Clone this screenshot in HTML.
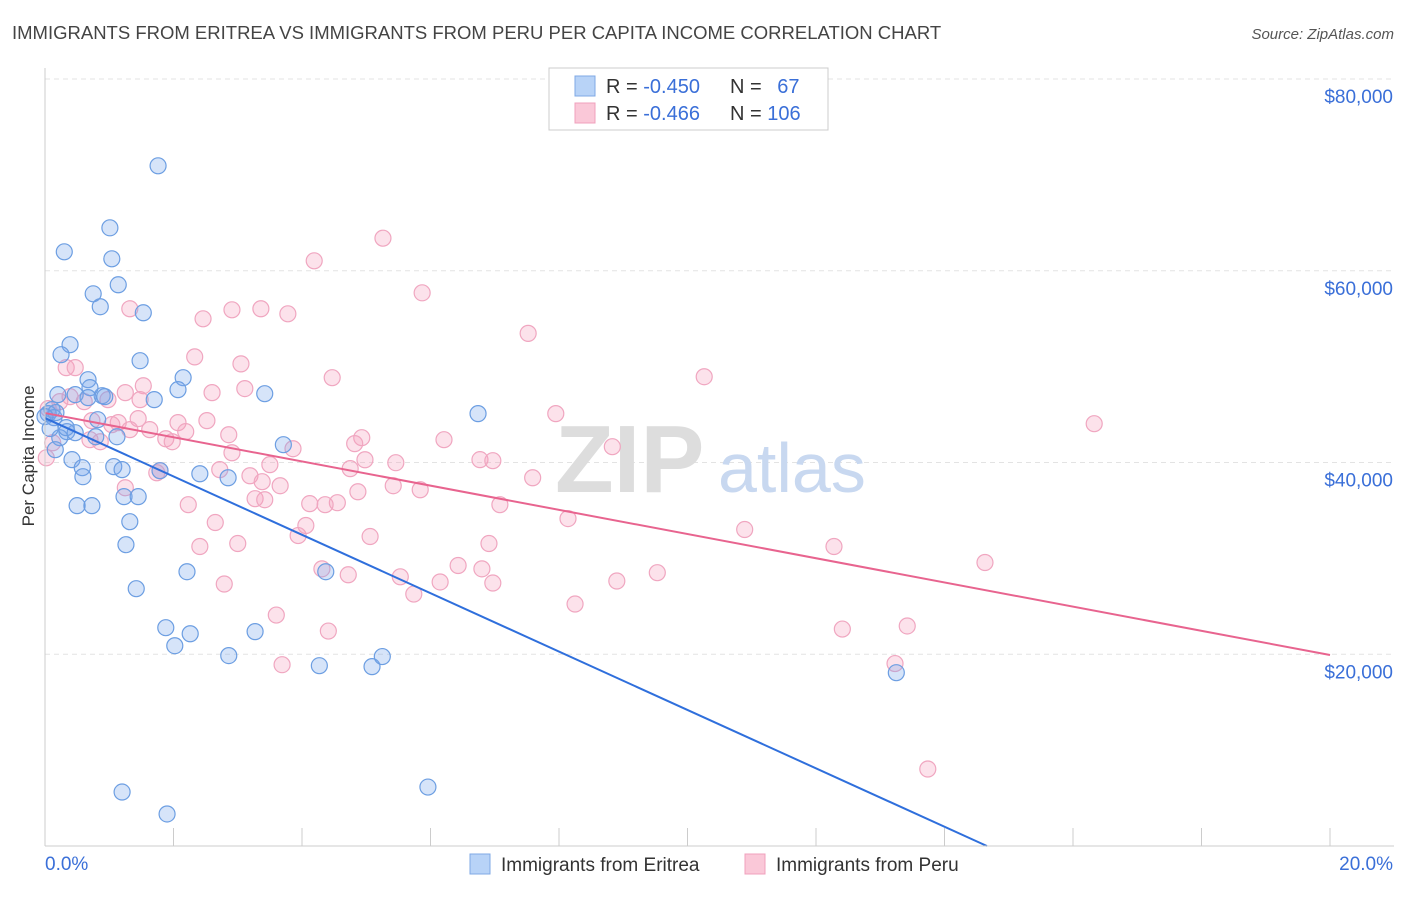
<!DOCTYPE html>
<html><head><meta charset="utf-8"><style>
body{margin:0;background:#fff;font-family:"Liberation Sans",sans-serif}
svg text{font-family:"Liberation Sans",sans-serif}
</style></head><body>
<svg id="chart" width="1406" height="892" xmlns="http://www.w3.org/2000/svg">
<text x="12" y="39" font-size="18.5" fill="#444">IMMIGRANTS FROM ERITREA VS IMMIGRANTS FROM PERU PER CAPITA INCOME CORRELATION CHART</text>
<text x="1394" y="39" font-size="15" fill="#555" text-anchor="end" font-style="italic">Source: ZipAtlas.com</text>
<text transform="translate(34,456) rotate(-90)" font-size="17" fill="#333" text-anchor="middle">Per Capita Income</text>
<g id="grid"></g>
<g><text x="555" y="492" font-size="96" fill="#ddd" font-family="Liberation Serif" font-weight="bold">ZIP</text><text x="718" y="492" font-size="70" fill="#c8d8f0">atlas</text></g>
<g id="pts"></g>
<g id="lines"></g>
<g id="axes"></g>
<g>
<rect x="549" y="68" width="279" height="62" fill="#fff" stroke="#ccc"/>
<rect x="575" y="76" width="20" height="20" fill="#b8d3f7" stroke="#7fa8e4"/>
<rect x="575" y="103" width="20" height="20" fill="#fac8d8" stroke="#f0a0bc"/>
<text x="606" y="93" font-size="20" fill="#333">R = <tspan fill="#3a6fd8">-0.450</tspan></text>
<text x="730" y="93" font-size="20" fill="#333">N = <tspan fill="#3a6fd8" dx="10">67</tspan></text>
<text x="606" y="120" font-size="20" fill="#333">R = <tspan fill="#3a6fd8">-0.466</tspan></text>
<text x="730" y="120" font-size="20" fill="#333">N = <tspan fill="#3a6fd8">106</tspan></text>
</g>
<g>
<rect x="470" y="854" width="20" height="20" fill="#b8d3f7" stroke="#7fa8e4"/>
<text x="501" y="871" font-size="19" fill="#333">Immigrants from Eritrea</text>
<rect x="745" y="854" width="20" height="20" fill="#fac8d8" stroke="#f0a0bc"/>
<text x="776" y="871" font-size="19" fill="#333">Immigrants from Peru</text>
</g>
</svg>
<script>
const yTicks=[20000,40000,60000,80000];
const yTickLabels=["$20,000","$40,000","$60,000","$80,000"];
const xTickLabels=["0.0%","20.0%"];
const blueX=[1.76,1.01,0.30,1.04,1.14,0.75,0.86,1.53,0.39,0.25,1.48,0.67,2.15,0.89,0.70,2.07,3.42,1.70,0.20,0.11,0.05,0.14,0.82,0.34,0.23,0.47,1.12,0.79,6.74,3.71,0.16,0.42,0.58,1.07,1.20,0.59,2.41,2.85,1.79,1.23,1.45,0.50,0.73,1.32,1.26,1.42,2.21,4.37,1.88,2.26,2.02,3.27,2.86,4.27,5.09,5.25,13.25,1.20,5.96,1.90,0.47,0.67,0.93,0.17,0.0,0.08,0.33];
const blueY=[70950,64480,61980,61250,58540,57600,56250,55620,52290,51250,50620,48640,48850,46970,47810,47600,47180,46560,47080,45520,45100,44680,44470,43220,42590,43110,42690,42690,45100,41860,41340,40300,39460,39570,39260,38520,38830,38410,39150,36440,36440,35500,35500,33830,31430,26840,28610,28610,22770,22140,20890,22360,19860,18810,18710,19760,18080,5630,6150,3340,47080,46770,46870,45210,44790,43540,43640];
const pinkX=[5.26,4.19,5.87,1.32,2.91,3.36,2.46,3.78,7.52,2.33,3.05,1.53,4.47,10.26,0.33,2.60,3.11,0.39,0.61,0.98,0.05,7.95,16.33,1.14,1.45,2.07,2.52,2.19,1.32,1.63,1.88,1.98,2.86,0.70,0.86,4.93,4.82,6.21,3.86,8.83,6.77,6.97,5.46,4.75,3.50,2.72,3.19,1.74,1.79,1.25,3.66,5.84,5.42,4.87,7.59,3.27,4.55,3.42,4.12,4.36,2.23,7.08,8.14,2.65,4.06,3.94,5.06,10.89,3.00,2.41,6.91,12.28,14.63,6.43,4.31,4.72,5.53,6.80,9.53,6.15,8.90,2.79,6.97,5.74,8.25,3.60,4.41,12.41,13.42,13.23,3.69,13.74,0.12,0.02,0.47,0.23,1.25,0.73,1.04,1.48,2.91,3.38,4.98];
const pinkY=[63400,61040,57700,56040,55930,56040,54990,55510,53470,51020,50290,48010,48850,48950,49900,47290,47710,46870,46350,46560,45620,45100,44050,44160,44580,44160,44370,43220,43430,43430,42480,42170,42900,42380,42170,42590,41970,42380,41440,41650,40300,40190,39980,39360,39780,39260,38620,38930,39150,37370,37580,37160,37580,36950,38410,36230,35810,36120,35710,35600,35600,35600,34150,33740,33430,32380,32280,33010,31550,31240,31550,31240,29570,29260,28910,28290,28080,28910,28510,27540,27640,27330,27430,26280,25240,24090,22420,22630,22950,19030,18910,8030,42060,40490,49900,46350,47290,44370,43950,46560,41020,38000,40290];
const blueTrend=[44640,0]; const blueTrendX=[0,14.66];
const pinkTrend=[45160,19920]; const pinkTrendX=[0,20];
const X=v=>45+v*64.25, Y=v=>846-v*0.009587;
const NS="http://www.w3.org/2000/svg";
function mk(t,a,p){const e=document.createElementNS(NS,t);for(const k in a)e.setAttribute(k,a[k]);p.appendChild(e);return e;}
const grid=document.getElementById('grid'),axes=document.getElementById('axes'),pts=document.getElementById('pts'),lines=document.getElementById('lines');
yTicks.forEach((t,i)=>{
 const l=mk('line',{x1:45,x2:1394,y1:Y(t),y2:Y(t),stroke:'#e3e3e3','stroke-dasharray':'5,4'},grid);
 
 
 const tx=mk('text',{x:1393,y:Y(t)+24,'font-size':19,fill:'#3a6fd8','text-anchor':'end'},axes);
 tx.textContent=yTickLabels[i];
 
 
});
mk('line',{x1:45,x2:45,y1:68,y2:846,stroke:'#ccc'},axes);
mk('line',{x1:45,x2:1394,y1:846,y2:846,stroke:'#ccc'},axes);
for(let i=0;i<=10;i++){const t=mk('line',{x1:X(i*2),x2:X(i*2),y1:828,y2:846,stroke:'#ccc'},axes);
 
 }
const xl0=mk('text',{x:45,y:870,'font-size':19,fill:'#3a6fd8'},axes);xl0.textContent=xTickLabels[0];


const xl1=mk('text',{x:1393,y:870,'font-size':19,fill:'#3a6fd8','text-anchor':'end'},axes);xl1.textContent=xTickLabels[1];


pinkX.forEach((x,i)=>{const c=mk('circle',{cx:X(x),cy:Y(pinkY[i]),r:8,fill:'rgba(244,160,190,0.3)',stroke:'#f0a6c0','stroke-width':1.2},pts);
 
 });
blueX.forEach((x,i)=>{const c=mk('circle',{cx:X(x),cy:Y(blueY[i]),r:8,fill:'rgba(120,165,235,0.3)',stroke:'#6c9ee2','stroke-width':1.2},pts);
 
 });
const bl=mk('line',{x1:X(blueTrendX[0]),y1:Y(blueTrend[0]),x2:X(blueTrendX[1]),y2:Y(blueTrend[1]),stroke:'#2f6fdc','stroke-width':2},lines);


const pl=mk('line',{x1:X(pinkTrendX[0]),y1:Y(pinkTrend[0]),x2:X(pinkTrendX[1]),y2:Y(pinkTrend[1]),stroke:'#e8648f','stroke-width':2},lines);


</script>
</body></html>
